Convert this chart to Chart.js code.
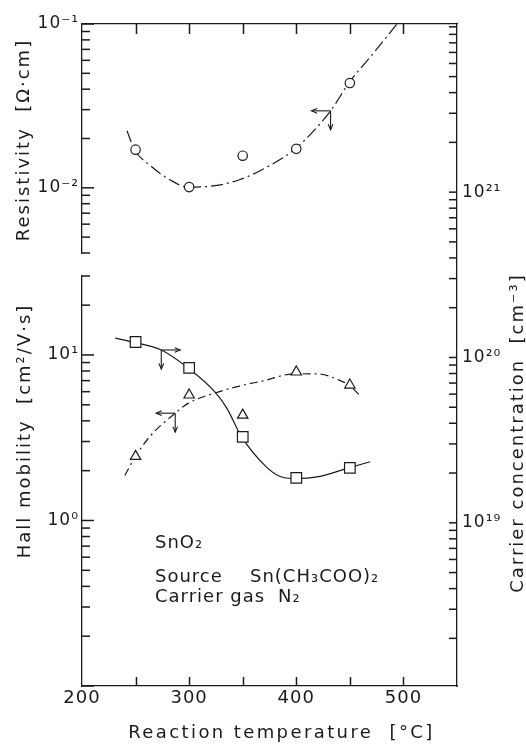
<!DOCTYPE html>
<html>
<head>
<meta charset="utf-8">
<title>SnO2 - reaction temperature</title>
<script src="https://cdn.jsdelivr.net/npm/chart.js@4.4.1/dist/chart.umd.min.js"></script>
<style>
  html, body { margin: 0; padding: 0; background: #fff; }
  #chart { display: block; }
</style>
</head>
<body>
<canvas id="chart" width="526" height="747"></canvas>
<script>
const ink = "#1b1b1b";
const fontFamily = "'DejaVu Sans', 'Liberation Sans', sans-serif";

// measured points, reaction temperature in deg C
const tempPoints = [250, 300, 350, 400, 450];
const resistivity = [0.0171, 0.0101, 0.0157, 0.0173, 0.0436]; // ohm cm (circles)
const mobility = [2.44, 5.73, 4.33, 7.89, 6.58]; // cm2/V s (triangles)
const carrierConc = [1.24e20, 8.65e19, 3.31e19, 1.87e19, 2.15e19]; // cm-3 (squares)

// hand drawn guide curves
const resFitTemp = [242, 249, 263, 282, 299, 324, 347, 368, 399, 432, 449, 473, 494];
const resFit = [0.0223, 0.0171, 0.0138, 0.0112, 0.0101, 0.0103, 0.0112, 0.0129, 0.0173, 0.0295, 0.0436, 0.0675, 0.1];
const mobFitTemp = [240, 249, 263, 287, 299, 324, 347, 368, 399, 421, 440, 449, 461];
const mobFit = [1.87, 2.38, 3.2, 4.45, 5.1, 5.89, 6.49, 6.95, 7.7, 7.67, 7.05, 6.58, 5.56];
const concFitTemp = [231, 247, 274, 299, 324, 335, 349, 372, 384, 399, 421, 449, 469];
const concFit = [1.31e20, 1.24e20, 1.11e20, 8.65e19, 6.2e19, 4.96e19, 3.31e19, 2.18e19, 1.92e19, 1.85e19, 1.9e19, 2.15e19, 2.34e19];

// little arrows telling which axis a curve uses
const arrowTemp = [432, 274, 287];
const arrowValue = [0.0295, 1.11e20, 4.45];
const arrowAxis = ["yRes", "yConc", "yMob"];
const arrowDir = [-1, 1, -1];

// ticks and tick labels
const tempTickMarks = [250, 300, 350, 400, 450, 500];
const tempTicks = [200, 300, 400, 500];
const tempTickLabels = ["200", "300", "400", "500"];
const resTicks = [0.1, 0.01];
const resTickLabels = ["10⁻¹", "10⁻²"];
const mobTicks = [10, 1];
const mobTickLabels = ["10¹", "10⁰"];
const concTicks = [1e21, 1e20, 1e19];
const concTickLabels = ["10²¹", "10²⁰", "10¹⁹"];

const xTitle = "Reaction temperature  [°C]";
const resTitle = "Resistivity  [Ω·cm]";
const mobTitle = "Hall mobility  [cm²/V·s]";
const concTitle = "Carrier concentration  [cm⁻³]";
const notes = ["SnO₂", "Source", "Sn(CH₃COO)₂", "Carrier gas", "N₂"];

const pts = (xs, ys) => xs.map((x, i) => ({ x: x, y: ys[i] }));

const decadeTicks = (scale) => {
  const out = [];
  const lo = Math.floor(Math.log10(scale.min));
  const hi = Math.ceil(Math.log10(scale.max));
  for (let e = lo; e <= hi; e++) {
    for (let k = 1; k <= 9; k++) {
      const v = k * Math.pow(10, e);
      if (v >= scale.min * 0.9999 && v <= scale.max * 1.0001) {
        out.push({ value: v, major: k === 1 });
      }
    }
  }
  scale.ticks = out;
};

const pickLabel = (values, labels) => (v) => {
  const i = values.findIndex((t) => Math.abs(v - t) <= Math.abs(t) * 1e-6);
  return i >= 0 ? labels[i] : "";
};

const drawLine = (ctx, x0, y0, x1, y1) => {
  ctx.beginPath();
  ctx.moveTo(x0, y0);
  ctx.lineTo(x1, y1);
  ctx.stroke();
};

const drawArrow = (ctx, x0, y0, x1, y1) => {
  const a = Math.atan2(y1 - y0, x1 - x0);
  drawLine(ctx, x0, y0, x1, y1);
  ctx.beginPath();
  ctx.moveTo(x1 - 6 * Math.cos(a - 0.4), y1 - 6 * Math.sin(a - 0.4));
  ctx.lineTo(x1, y1);
  ctx.lineTo(x1 - 6 * Math.cos(a + 0.4), y1 - 6 * Math.sin(a + 0.4));
  ctx.stroke();
};

// all ticks point into the plot, like the original
const drawTickMarks = (chart) => {
  const ctx = chart.ctx;
  const s = chart.scales;
  const ca = chart.chartArea;
  const tickValues = (sc) => (sc.ticks || []).map((t) => t.value);
  ["yRes", "yMob"].forEach((id) => {
    const sc = s[id];
    tickValues(sc).forEach((v) => {
      const y = sc.getPixelForValue(v);
      const major = Math.abs(Math.log10(v) - Math.round(Math.log10(v))) < 1e-6;
      drawLine(ctx, sc.right, y, sc.right + (major ? 12 : 8), y);
    });
  });
  const r = s.yConc;
  tickValues(r).forEach((v) => {
    const y = r.getPixelForValue(v);
    if (y > r.top + 1 && y < r.bottom - 1) drawLine(ctx, r.left, y, r.left - 8, y);
  });
  tempTickMarks.forEach((v) => {
    const x = Math.round(s.x.getPixelForValue(v)) + 0.5;
    drawLine(ctx, x, ca.bottom, x, ca.bottom - 9);
    drawLine(ctx, x, ca.top, x, ca.top + 10);
  });
};

const decorations = {
  id: "decorations",
  afterDraw(chart) {
    const ctx = chart.ctx;
    ctx.save();
    ctx.strokeStyle = ink;
    ctx.lineWidth = 1.5;
    ctx.setLineDash([]);
    drawTickMarks(chart);
    ctx.lineWidth = 1.1;
    arrowTemp.forEach((t, i) => {
      const x = chart.scales.x.getPixelForValue(t);
      const y = chart.scales[arrowAxis[i]].getPixelForValue(arrowValue[i]);
      drawArrow(ctx, x, y, x + 19 * arrowDir[i], y);
      drawArrow(ctx, x, y, x, y + 19);
    });
    ctx.restore();
  },
};

const texts = {
  id: "texts",
  beforeDraw(chart) {
    chart.ctx.letterSpacing = "1px";
  },
  afterDraw(chart) {
    const ctx = chart.ctx;
    const ca = chart.chartArea;
    const vText = (text, x, y) => {
      ctx.save();
      ctx.translate(x, y);
      ctx.rotate(-Math.PI / 2);
      ctx.fillText(text, 0, 0);
      ctx.restore();
    };
    ctx.save();
    ctx.fillStyle = ink;
    ctx.font = "18px " + fontFamily;
    ctx.letterSpacing = "2.4px";
    ctx.textAlign = "center";
    ctx.textBaseline = "alphabetic";
    ctx.fillText(xTitle, (ca.left + ca.right) / 2 + 12, ca.bottom + 52);
    ctx.letterSpacing = "2px";
    vText(resTitle, ca.left - 53, ca.top + 116);
    vText(mobTitle, ca.left - 52, ca.top + 407);
    vText(concTitle, ca.right + 66, ca.top + 409);

    ctx.textAlign = "left";
    ctx.letterSpacing = "1px";
    ctx.fillText(notes[0], ca.left + 73, ca.top + 524);
    ctx.fillText(notes[1], ca.left + 73, ca.top + 558);
    ctx.fillText(notes[2], ca.left + 168, ca.top + 558);
    ctx.fillText(notes[3], ca.left + 73, ca.top + 578);
    ctx.fillText(notes[4], ca.left + 196, ca.top + 578);
    ctx.restore();
  },
};

const markers = (data, axis, style, radius) => ({
  data: data,
  yAxisID: axis,
  showLine: false,
  pointStyle: style,
  pointRadius: radius,
  pointBorderWidth: 1.2,
  pointBorderColor: ink,
  pointBackgroundColor: "#fff",
});

const curve = (data, axis, dash) => ({
  data: data,
  yAxisID: axis,
  showLine: true,
  pointRadius: 0,
  borderColor: ink,
  borderWidth: 1.2,
  borderDash: dash,
  cubicInterpolationMode: "monotone",
});

const tickFont = { family: fontFamily, size: 17 };
const border = { color: ink, width: 1.3 };
const noGrid = { display: false, drawTicks: false };

new Chart(document.getElementById("chart"), {
  type: "scatter",
  data: {
    datasets: [
      markers(pts(tempPoints, resistivity), "yRes", "circle", 4.7),
      markers(pts(tempPoints, mobility), "yMob", "triangle", 6),
      markers(pts(tempPoints, carrierConc), "yConc", "rect", 7.5),
      curve(pts(resFitTemp, resFit), "yRes", [12, 4, 2, 4]),
      curve(pts(mobFitTemp, mobFit), "yMob", [8, 4, 2, 4]),
      curve(pts(concFitTemp, concFit), "yConc", []),
    ],
  },
  options: {
    responsive: false,
    animation: false,
    events: [],
    layout: { padding: 0 },
    plugins: { legend: { display: false }, tooltip: { enabled: false } },
    scales: {
      x: {
        type: "linear",
        position: "bottom",
        min: 200,
        max: 550,
        grid: noGrid,
        border: border,
        ticks: {
          stepSize: 50,
          autoSkip: false,
          maxRotation: 0,
          padding: 2,
          color: ink,
          font: { family: fontFamily, size: 18 },
          callback: pickLabel(tempTicks, tempTickLabels),
        },
        afterFit: (s) => { s.height = 61; },
      },
      xTop: {
        type: "linear",
        position: "top",
        min: 200,
        max: 550,
        grid: noGrid,
        border: border,
        ticks: { display: false },
        afterFit: (s) => { s.height = 24; },
      },
      yMob: {
        type: "logarithmic",
        position: "left",
        stack: "left",
        stackWeight: 410,
        min: 0.1,
        max: 30,
        grid: noGrid,
        border: border,
        afterBuildTicks: decadeTicks,
        ticks: { autoSkip: false, padding: 3, color: ink, font: tickFont, callback: pickLabel(mobTicks, mobTickLabels) },
        afterFit: (s) => { s.width = 82; },
      },
      yGap: {
        type: "linear",
        position: "left",
        stack: "left",
        stackWeight: 23,
        grid: noGrid,
        border: { display: false },
        ticks: { display: false },
        afterFit: (s) => { s.width = 82; },
      },
      yRes: {
        type: "logarithmic",
        position: "left",
        stack: "left",
        stackWeight: 229,
        min: 0.004,
        max: 0.1,
        grid: noGrid,
        border: border,
        afterBuildTicks: decadeTicks,
        ticks: { autoSkip: false, padding: 3, color: ink, font: tickFont, callback: pickLabel(resTicks, resTickLabels) },
        afterFit: (s) => { s.width = 82; },
      },
      yConc: {
        type: "logarithmic",
        position: "right",
        min: 1.03e18,
        max: 1.04e22,
        grid: noGrid,
        border: border,
        afterBuildTicks: decadeTicks,
        ticks: { autoSkip: false, padding: 5, color: ink, font: tickFont, callback: pickLabel(concTicks, concTickLabels) },
        afterFit: (s) => { s.width = 69; },
      },
    },
  },
  plugins: [texts, decorations],
});
</script>
</body>
</html>
